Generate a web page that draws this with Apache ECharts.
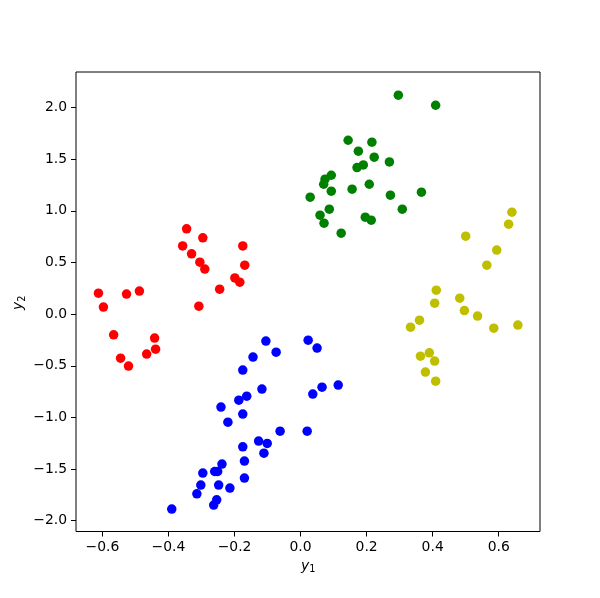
<!DOCTYPE html>
<html>
<head>
<meta charset="utf-8">
<script src="https://cdn.jsdelivr.net/npm/echarts@6/dist/echarts.min.js"></script>
<style>html,body{margin:0;padding:0;background:#fff}#c{width:600px;height:598px}</style>
</head>
<body>
<div id="c"></div>
<script>
const xTicks = [-0.6, -0.4, -0.2, 0.0, 0.2, 0.4, 0.6];
const yTicks = [-2.0, -1.5, -1.0, -0.5, 0.0, 0.5, 1.0, 1.5, 2.0];

const redPoints = [
  [-0.345, 0.826], [-0.296, 0.739], [-0.357, 0.661], [-0.330, 0.584], [-0.305, 0.503],
  [-0.290, 0.436], [-0.175, 0.661], [-0.169, 0.474], [-0.199, 0.351], [-0.184, 0.310],
  [-0.245, 0.242], [-0.308, 0.077], [-0.612, 0.203], [-0.597, 0.068], [-0.527, 0.194],
  [-0.488, 0.223], [-0.566, -0.200], [-0.442, -0.232], [-0.439, -0.339], [-0.545, -0.426],
  [-0.521, -0.503], [-0.466, -0.387]
];
const greenPoints = [
  [0.296, 2.120], [0.409, 2.023], [0.144, 1.684], [0.216, 1.665], [0.175, 1.578],
  [0.223, 1.520], [0.269, 1.474], [0.190, 1.445], [0.171, 1.419], [0.093, 1.345],
  [0.074, 1.307], [0.070, 1.258], [0.208, 1.258], [0.093, 1.191], [0.156, 1.210],
  [0.029, 1.133], [0.272, 1.152], [0.366, 1.181], [0.087, 1.016], [0.308, 1.016],
  [0.059, 0.958], [0.196, 0.939], [0.214, 0.910], [0.071, 0.881], [0.123, 0.784]
];
const bluePoints = [
  [-0.105, -0.261], [0.023, -0.252], [0.050, -0.329], [-0.074, -0.368], [-0.144, -0.416],
  [-0.175, -0.542], [-0.117, -0.726], [-0.163, -0.794], [-0.187, -0.833], [-0.241, -0.900],
  [-0.175, -0.968], [-0.220, -1.046], [-0.062, -1.133], [0.020, -1.133], [0.037, -0.774],
  [0.065, -0.707], [0.114, -0.687], [-0.127, -1.229], [-0.101, -1.252], [-0.111, -1.346],
  [-0.175, -1.285], [-0.170, -1.423], [-0.170, -1.588], [-0.238, -1.452], [-0.260, -1.524],
  [-0.251, -1.524], [-0.296, -1.539], [-0.302, -1.655], [-0.248, -1.655], [-0.214, -1.684],
  [-0.314, -1.740], [-0.254, -1.798], [-0.263, -1.849], [-0.390, -1.888]
];
const yellowPoints = [
  [0.640, 0.987], [0.630, 0.871], [0.500, 0.755], [0.594, 0.620], [0.564, 0.474],
  [0.411, 0.232], [0.482, 0.155], [0.406, 0.106], [0.496, 0.035], [0.536, -0.019],
  [0.585, -0.136], [0.658, -0.106], [0.360, -0.058], [0.333, -0.126], [0.390, -0.375],
  [0.363, -0.407], [0.406, -0.455], [0.378, -0.561], [0.409, -0.649]
];

const fmt = v => (Math.abs(v) < 1e-9 ? 0 : v).toFixed(1).replace('-', '\u2212');
const FONT = 'DejaVu Sans';

const chart = echarts.init(document.getElementById('c'), null, {renderer: 'canvas'});
function sc(data, color) {
  return {
    type: 'scatter', data: data, symbol: 'circle', symbolSize: 9.5,
    itemStyle: {color: color, opacity: 1}, emphasis: {disabled: true}, animation: false
  };
}
chart.setOption({
  animation: false,
  backgroundColor: '#ffffff',
  grid: {left: 76, top: 72, width: 464, height: 459.5, show: true, borderColor: '#000', borderWidth: 1, backgroundColor: 'transparent'},
  xAxis: {
    type: 'value', min: -0.68, max: 0.725,
    axisLine: {show: false, onZero: false},
    splitLine: {show: false},
    axisTick: {show: true, inside: false, length: 5, lineStyle: {color: '#000', width: 1}, customValues: xTicks},
    axisLabel: {customValues: xTicks, formatter: fmt, color: '#000', fontFamily: FONT, fontSize: 13.9, margin: 9}
  },
  yAxis: {
    type: 'value', min: -2.105, max: 2.345,
    axisLine: {show: false, onZero: false},
    splitLine: {show: false},
    axisTick: {show: true, inside: false, length: 5, lineStyle: {color: '#000', width: 1}, customValues: yTicks},
    axisLabel: {customValues: yTicks, formatter: fmt, color: '#000', fontFamily: FONT, fontSize: 13.9, margin: 9}
  },
  graphic: [
    {type: 'text', left: 301, top: 559, style: {
      text: '{i|y}{s|1}', fill: '#000',
      rich: {i: {fontFamily: FONT, fontStyle: 'italic', fontSize: 13.9, fill: '#000'},
             s: {fontFamily: FONT, fontSize: 9.7, fill: '#000', padding: [7, 0, 0, 0]}}
    }},
    {type: 'text', x: 10, y: 310, rotation: Math.PI / 2, style: {
      text: '{i|y}{s|2}', fill: '#000',
      rich: {i: {fontFamily: FONT, fontStyle: 'italic', fontSize: 13.9, fill: '#000'},
             s: {fontFamily: FONT, fontSize: 9.7, fill: '#000', padding: [7, 0, 0, 0]}}
    }}
  ],
  series: [
    sc(redPoints, '#ff0000'),
    sc(greenPoints, '#008000'),
    sc(bluePoints, '#0000ff'),
    sc(yellowPoints, '#bfbf00')
  ]
});
</script>
</body>
</html>
